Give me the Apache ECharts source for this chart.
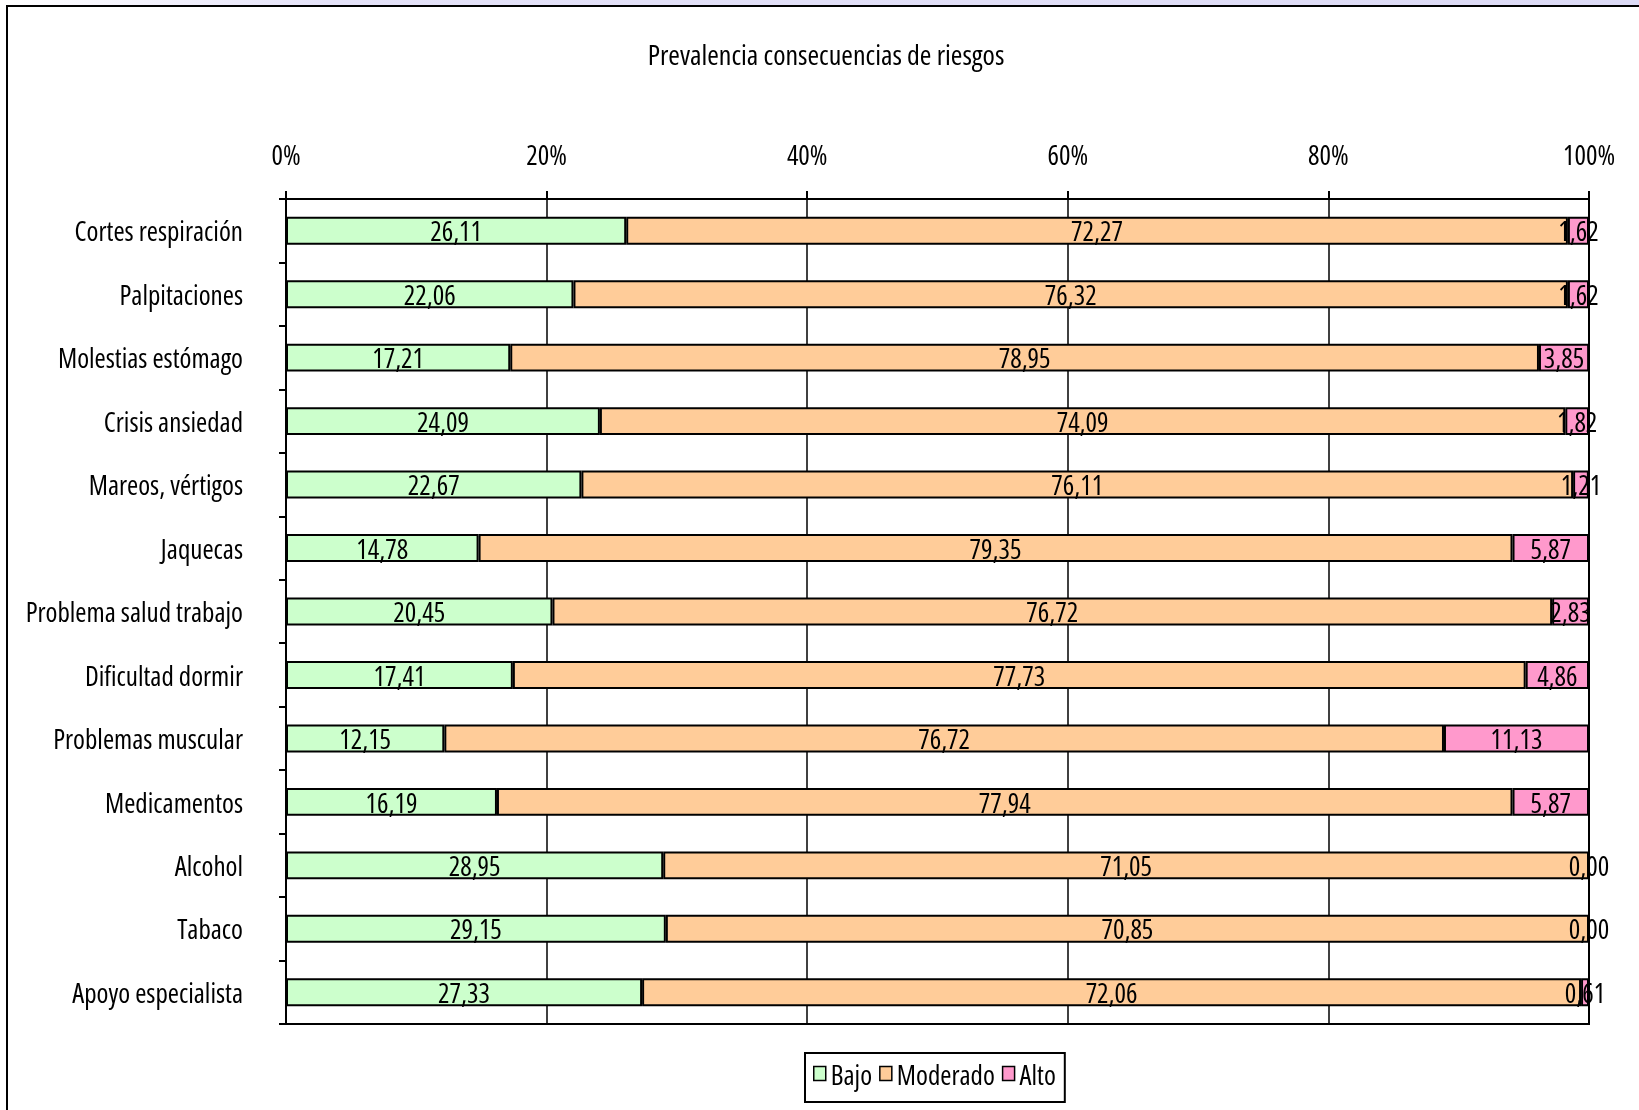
<!DOCTYPE html>
<html>
<head>
<meta charset="utf-8">
<script src="https://cdn.jsdelivr.net/npm/echarts@6/dist/echarts.min.js"></script>
<style>
    html, body { margin: 0; padding: 0; background: #fff; }
    #strip { position: absolute; left: 0; top: 0; width: 1639px; height: 6px;
        background: linear-gradient(to right, #ffffff 0%, #e4e2f8 20%, #dcdaf5 100%); }
    #frame { position: absolute; left: 6px; top: 5px; width: 1660px; height: 1200px;
        border: 2px solid #000; box-sizing: border-box; }
    #chart { position: absolute; left: 0; top: 0; width: 1639px; height: 1110px; }
</style>
</head>
<body>
<div id="strip"></div>
<div id="frame"></div>
<div id="chart"></div>
<script>
const categories = [
    'Cortes respiración', 'Palpitaciones', 'Molestias estómago', 'Crisis ansiedad',
    'Mareos, vértigos', 'Jaquecas', 'Problema salud trabajo', 'Dificultad dormir',
    'Problemas muscular', 'Medicamentos', 'Alcohol', 'Tabaco', 'Apoyo especialista'
];
const bajo = [26.11, 22.06, 17.21, 24.09, 22.67, 14.78, 20.45, 17.41, 12.15, 16.19, 28.95, 29.15, 27.33];
const moderado = [72.27, 76.32, 78.95, 74.09, 76.11, 79.35, 76.72, 77.73, 76.72, 77.94, 71.05, 70.85, 72.06];
const alto = [1.62, 1.62, 3.85, 1.82, 1.21, 5.87, 2.83, 4.86, 11.13, 5.87, 0.00, 0.00, 0.61];
const xTicks = ['0%', '20%', '40%', '60%', '80%', '100%'];

// narrow look: Open Sans with font-stretch condensed (goes into the canvas font string)
const font = '"Open Sans", "Liberation Sans", sans-serif';
const narrow = 'condensed';

function comma(val) {
    return val.toFixed(2).replace('.', ',');
}

function makeSeries(name, data, color) {
    return {
        name: name,
        type: 'bar',
        stack: 'total',
        barCategoryGap: '56%',
        data: data,
        itemStyle: { color: color, borderColor: '#000', borderWidth: 2 },
        label: {
            show: true,
            position: 'inside',
            offset: [0, 3],
            color: '#000',
            fontFamily: font,
            fontWeight: narrow,
            fontSize: 27,
            formatter: (p) => comma(p.value),
        },
        emphasis: { disabled: true },
    };
}

const chart = echarts.init(document.getElementById('chart'));
const option = {
    animation: false,
    textStyle: { fontFamily: font, fontWeight: narrow },
    title: {
        text: 'Prevalencia consecuencias de riesgos',
        left: 821,
        top: 38,
        textAlign: 'center',
        textStyle: { fontFamily: font, fontSize: 28, fontWeight: narrow, color: '#000' },
    },
    legend: {
        left: 805,
        top: 1053,
        padding: [11, 9, 11, 8],
        borderColor: '#000',
        borderWidth: 2,
        backgroundColor: '#fff',
        itemWidth: 12,
        itemHeight: 14,
        itemGap: 7,
        icon: 'rect',
        itemStyle: { borderColor: '#000', borderWidth: 1.5 },
        formatter: '{a|{name}}',
        textStyle: {
            color: '#000',
            rich: {
                a: { fontFamily: font, fontWeight: narrow, fontSize: 27, color: '#000', padding: [8, 0, 0, 0] },
            },
        },
        data: ['Bajo', 'Moderado', 'Alto'],
    },
    grid: {
        left: 286,
        right: 50,
        top: 199,
        height: 825,
        containLabel: false,
        outerBoundsMode: 'none',
        show: true,
        borderColor: '#000',
        borderWidth: 2,
        backgroundColor: 'transparent',
    },
    xAxis: {
        type: 'value',
        position: 'top',
        min: 0,
        max: 100,
        interval: 20,
        axisLine: { show: true, lineStyle: { color: '#000', width: 2 } },
        axisTick: { show: true, length: 8, lineStyle: { color: '#000', width: 2 } },
        splitLine: { show: true, lineStyle: { color: '#000', width: 1.5 } },
        axisLabel: {
            margin: 28,
            fontFamily: font,
            fontWeight: narrow,
            fontSize: 27,
            color: '#000',
            formatter: (v) => xTicks[Math.round(v / 20)],
        },
    },
    yAxis: {
        type: 'category',
        inverse: true,
        data: categories,
        axisLine: { show: true, lineStyle: { color: '#000', width: 2 } },
        axisTick: { show: true, length: 7, lineStyle: { color: '#000', width: 2 } },
        axisLabel: {
            margin: 43,
            color: '#000',
            formatter: (v) => '{a|' + v + '}',
            rich: {
                a: { fontFamily: font, fontWeight: narrow, fontSize: 27, color: '#000', padding: [6, 0, 0, 0] },
            },
        },
    },
    series: [
        makeSeries('Bajo', bajo, '#CCFFCC'),
        makeSeries('Moderado', moderado, '#FFCC99'),
        makeSeries('Alto', alto, '#FF99CC'),
    ],
};
chart.setOption(option);
</script>
</body>
</html>
